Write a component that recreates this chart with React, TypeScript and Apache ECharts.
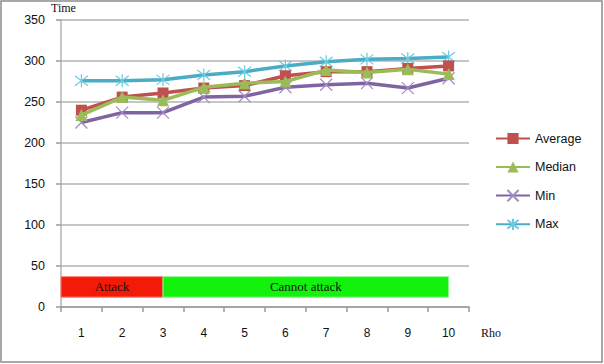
import React, { useEffect, useRef } from "react";
import * as echarts from "echarts";

const categories = ["1", "2", "3", "4", "5", "6", "7", "8", "9", "10"];
const averageValues = [240, 256, 261, 267, 270, 282, 287, 287, 291, 294];
const medianValues = [234, 256, 252, 268, 273, 275, 289, 286, 290, 284];
const minValues = [225, 237, 237, 256, 257, 268, 271, 273, 267, 279];
const maxValues = [276, 276, 277, 283, 287, 294, 299, 302, 303, 305];
const yTicks = { min: 0, max: 350, interval: 50 };

const bandNames = ["Attack", "Cannot attack"];
const bandStarts = [0.5, 3];
const bandEnds = [3, 10];
const bandColors = ["#F41A08", "#12F20C"];
const bandBorders = ["#F8807A", "#8CF58A"];
const bandLow = 12;
const bandHigh = 37;

const SANS = "'Liberation Sans', Arial, sans-serif";
const SERIF = "'Liberation Serif', 'Times New Roman', serif";

export default function App() {
  const ref = useRef<HTMLDivElement>(null);
  useEffect(() => {
    if (!ref.current) return;
    const chart = echarts.init(ref.current, undefined, { renderer: "svg" });
    const xSym = "path://M0,0L10,10M10,0L0,10";
    const starSym = "path://M0,0L10,10M10,0L0,10M5,-1.5L5,11.5";
    const option: any = {
      animation: false,
      backgroundColor: "#ffffff",
      grid: { left: 61, right: 135, top: 20, bottom: 57, containLabel: false },
      legend: {
        orient: "vertical",
        left: 490,
        top: 127,
        itemWidth: 34,
        itemHeight: 14,
        itemGap: 15.5,
        data: ["Average", "Median", "Min", "Max"],
        textStyle: { fontFamily: SANS, fontSize: 12.5, color: "#111" },
      },
      xAxis: [
        {
          type: "category",
          data: categories,
          boundaryGap: true,
          name: "Rho",
          nameLocation: "end",
          nameGap: 12,
          nameTextStyle: {
            fontFamily: SERIF,
            fontSize: 12,
            color: "#111",
            verticalAlign: "top",
            padding: [20, 0, 0, 0],
          },
          axisLine: { lineStyle: { color: "#9a9a9a", width: 1.5 } },
          axisTick: { show: true, length: 5, alignWithLabel: false, lineStyle: { color: "#9a9a9a", width: 1.5 } },
          axisLabel: { margin: 20, fontFamily: SANS, fontSize: 12, color: "#111" },
          splitLine: { show: false },
        },
        {
          type: "value",
          min: 0.5,
          max: 10.5,
          show: false,
        },
      ],
      yAxis: {
        type: "value",
        min: yTicks.min,
        max: yTicks.max,
        interval: yTicks.interval,
        name: "Time",
        nameLocation: "end",
        nameGap: 6,
        nameTextStyle: { fontFamily: SERIF, fontSize: 12, color: "#111", align: "left", padding: [0, 0, 0, -10] },
        axisLine: { show: true, lineStyle: { color: "#b5b5b5", width: 1.5 } },
        axisTick: { show: true, length: 5, lineStyle: { color: "#9a9a9a", width: 1.5 } },
        axisLabel: { margin: 16, fontFamily: SANS, fontSize: 12.5, color: "#111" },
        splitLine: { show: true, lineStyle: { color: "#b3b3b3", width: 1.5 } },
      },
      series: [
        {
          name: "Bands",
          type: "scatter",
          xAxisIndex: 1,
          yAxisIndex: 0,
          data: [],
          silent: true,
          markArea: {
            silent: true,
            data: bandNames.map((n, i) => [
              {
                name: n,
                xAxis: bandStarts[i],
                yAxis: bandLow,
                itemStyle: { color: bandColors[i], borderColor: bandBorders[i], borderWidth: 1 },
                label: {
                  show: true,
                  position: "inside",
                  fontFamily: SERIF,
                  fontSize: 13,
                  color: "#111",
                },
              },
              { xAxis: bandEnds[i], yAxis: bandHigh },
            ]),
          },
        },
        {
          name: "Average",
          type: "line",
          data: averageValues,
          symbol: "rect",
          symbolSize: 11,
          lineStyle: { color: "#C0504D", width: 3.5 },
          itemStyle: { color: "#C0504D" },
          z: 3,
        },
        {
          name: "Median",
          type: "line",
          data: medianValues,
          symbol: "triangle",
          symbolSize: 12,
          lineStyle: { color: "#9BBB59", width: 3.5 },
          itemStyle: { color: "#9BBB59" },
          z: 4,
        },
        {
          name: "Min",
          type: "line",
          data: minValues,
          symbol: xSym,
          symbolSize: 12,
          lineStyle: { color: "#8064A2", width: 3.5 },
          itemStyle: { color: "rgba(0,0,0,0)", borderColor: "#A28CC4", borderWidth: 1.2 },
          z: 2,
        },
        {
          name: "Max",
          type: "line",
          data: maxValues,
          symbol: starSym,
          symbolSize: 13,
          lineStyle: { color: "#4BACC6", width: 3.5 },
          itemStyle: { color: "rgba(0,0,0,0)", borderColor: "#6CCBE0", borderWidth: 1.2 },
          z: 2,
        },
      ],
      graphic: [
        {
          type: "rect",
          silent: true,
          shape: { x: 1, y: 1, width: 601, height: 361 },
          style: { fill: "none", stroke: "#8c8c8c", lineWidth: 1.5 },
          z: 100,
        },
      ],
    };
    chart.setOption(option);
    return () => chart.dispose();
  }, []);
  return <div ref={ref} style={{ position: "fixed", left: 0, top: 0, width: 604, height: 364 }} />;
}
